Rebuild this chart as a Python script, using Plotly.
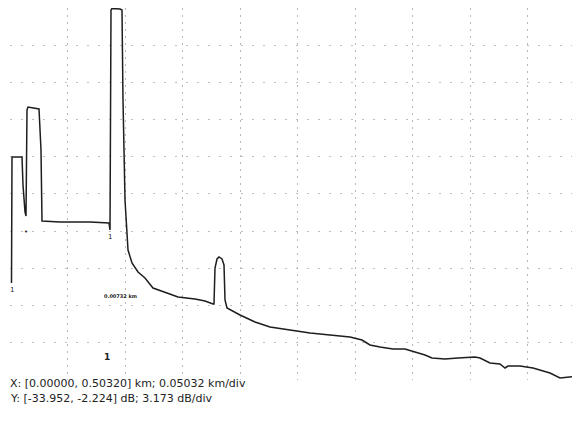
import plotly.graph_objects as go

# OTDR trace (distance km, level dB)
dist_km = [0.00131, 0.00175, 0.01050, 0.01138, 0.01313, 0.01400, 0.01488, 0.01575,
           0.02538, 0.02713, 0.02800, 0.04376, 0.07001, 0.08664, 0.08751, 0.08839,
           0.08926, 0.09626, 0.09801, 0.09889, 0.10064, 0.10327, 0.10677, 0.11202,
           0.11814, 0.12514, 0.13739, 0.14702, 0.16190, 0.17065, 0.17765, 0.17852,
           0.17940, 0.18115, 0.18290, 0.18553, 0.18728, 0.18815, 0.18990, 0.20128,
           0.21441, 0.22753, 0.24504, 0.26254, 0.28004, 0.29754, 0.30805, 0.31505,
           0.32380, 0.33517, 0.34568, 0.35443, 0.36318, 0.36930, 0.38068, 0.39206,
           0.40081, 0.40694, 0.41131, 0.42006, 0.42881, 0.43319, 0.43582, 0.44632,
           0.45769, 0.47257, 0.48132, 0.49007, 0.49445, 0.49882]
level_db = [-25.679, -14.932, -14.932, -17.320, -19.623, -19.964, -10.924, -10.668,
            -10.838, -14.335, -20.391, -20.476, -20.476, -20.561, -21.158, -2.395,
            -2.260, -2.309, -2.395, -10.071, -18.600, -22.864, -23.973, -24.741,
            -25.252, -26.105, -26.532, -26.873, -27.043, -27.214, -27.470, -27.470,
            -24.399, -23.632, -23.461, -23.632, -24.144, -27.129, -27.811, -28.408,
            -29.005, -29.432, -29.687, -29.943, -30.114, -30.284, -30.540, -30.967,
            -31.137, -31.308, -31.308, -31.564, -31.820, -32.076, -32.161, -32.076,
            -31.990, -31.990, -32.076, -32.502, -32.587, -32.928, -32.758, -32.758,
            -32.928, -33.355, -33.781, -33.696, -33.611, -33.611]

# Axis settings
x_min, x_max, x_div = 0.0, 0.50320, 0.05032
y_min, y_max, y_div = -33.952, -2.224, 3.173

# Event markers (km, dB, label)
event_x = [0.00175, 0.08751]
event_y = [-26.25, -21.75]
event_lbl = ["1", "1"]

fig = go.Figure()
fig.add_trace(go.Scatter(x=dist_km, y=level_db, mode="lines",
                         line=dict(color="#1e1e1e", width=1.5), hoverinfo="skip"))

# page body has an 8px margin
W, H = 572, 413
ml, mr, mt, mb = 2, 0, 0, 41
plot_w = W - ml - mr
px_per_km = 575 / (x_max - x_min)
x_view_max = x_min + plot_w / px_per_km

fig.update_layout(
    width=W, height=H,
    margin=dict(l=ml, r=mr, t=mt, b=mb),
    paper_bgcolor="white", plot_bgcolor="white",
    showlegend=False,
    xaxis=dict(range=[x_min, x_view_max], tick0=x_min, dtick=x_div, showticklabels=False,
               showgrid=True, gridcolor="#b8b8b8", gridwidth=1, griddash="2px,5px",
               zeroline=False, showline=False, ticks=""),
    yaxis=dict(range=[y_min, y_max], tick0=y_min, dtick=y_div, showticklabels=False,
               showgrid=True, gridcolor="#c0c0c0", gridwidth=1, griddash="2px,9px",
               zeroline=False, showline=False, ticks=""),
)

for ex, ey, el in zip(event_x, event_y, event_lbl):
    fig.add_annotation(x=ex, y=ey, text=el, showarrow=False,
                       font=dict(family="DejaVu Sans", size=7, color="#222"))
fig.add_annotation(x=0.0140, y=-21.3, text="•", showarrow=False,
                   font=dict(family="DejaVu Sans", size=7, color="#222"))
fig.add_annotation(x=0.0971, y=-26.79, text="<b>0.00732 km</b>", showarrow=False,
                   font=dict(family="DejaVu Sans", size=5, color="#222"))
fig.add_annotation(x=0.0849, y=-31.99, text="<b>1</b>", showarrow=False,
                   font=dict(family="DejaVu Sans", size=9, color="#222"))

ph = H - mt - mb
for txt, ypx in [("X: [0.00000, 0.50320] km; 0.05032 km/div", 375),
                 ("Y: [-33.952, -2.224] dB; 3.173 dB/div", 390)]:
    fig.add_annotation(xref="paper", yref="paper", x=(0 - ml) / plot_w,
                       y=(H - mb - ypx) / ph, xanchor="left", yanchor="middle",
                       text=txt, showarrow=False,
                       font=dict(family="DejaVu Sans", size=11, color="#222"))

fig.write_html("out.html")
